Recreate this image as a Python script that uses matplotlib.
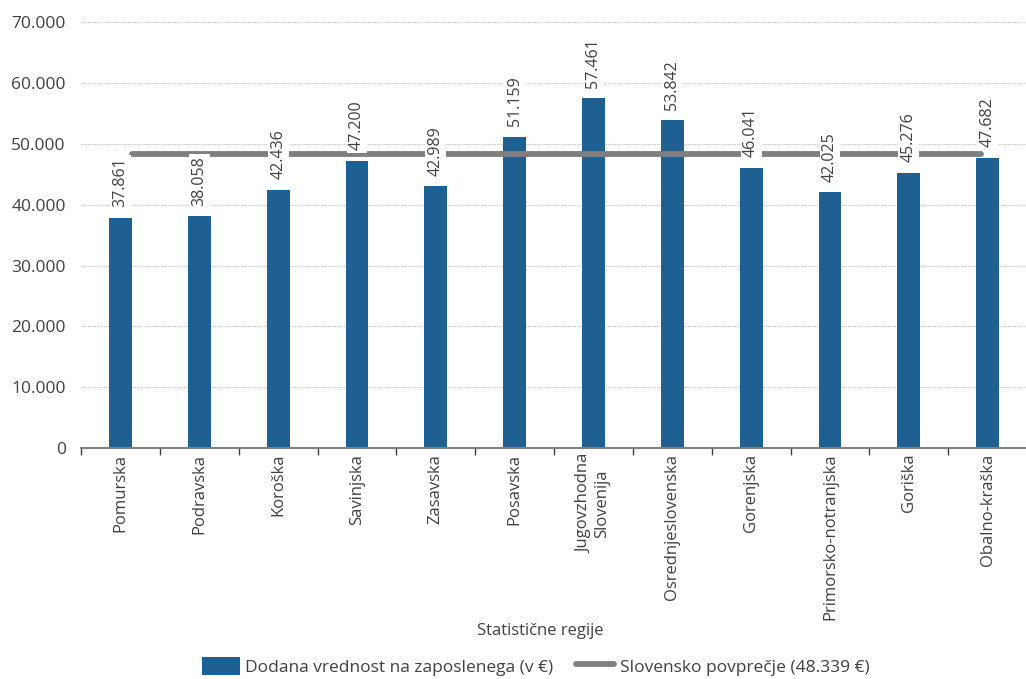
import matplotlib.pyplot as plt
from matplotlib.ticker import FuncFormatter, FixedLocator
from matplotlib.lines import Line2D
from matplotlib.patches import Patch

plt.rcParams["font.family"] = ["Open Sans", "DejaVu Sans"]

regions = [
    "Pomurska",
    "Podravska",
    "Koroška",
    "Savinjska",
    "Zasavska",
    "Posavska",
    "Jugovzhodna\nSlovenija",
    "Osrednjeslovenska",
    "Gorenjska",
    "Primorsko-notranjska",
    "Goriška",
    "Obalno-kraška",
]
value_added = [37861, 38058, 42436, 47200, 42989, 51159, 57461, 53842, 46041, 42025, 45276, 47682]
slovenia_avg = 48339

bar_color = "#1f6092"
line_color = "#7f7f7f"
text_color = "#404040"


def dot_thousands(v, pos=None):
    return f"{int(round(v)):,}".replace(",", ".")


fig = plt.figure(figsize=(10.26, 6.79), dpi=100)
ax = fig.add_axes([0.079, 0.340, 0.922, 0.6276])

x = list(range(len(regions)))
ax.bar(x, value_added, width=0.29, color=bar_color, zorder=2)

# national average drawn across the categories
ax.plot([0.15, 10.92], [slovenia_avg, slovenia_avg], color=line_color,
        linewidth=4.2, solid_capstyle="round", zorder=3)

for xi, v in zip(x, value_added):
    ax.annotate(dot_thousands(v), (xi, v), xytext=(0, 7.5), textcoords="offset points",
                rotation=90, ha="center", va="bottom", fontsize=11.5, color=text_color,
                bbox=dict(boxstyle="square,pad=0.15", fc="white", ec="none"),
                zorder=4, annotation_clip=False)

ax.set_xlim(-0.5, len(regions) - 0.5)
ax.set_ylim(0, 70000)
ax.set_yticks(range(0, 70001, 10000))
ax.yaxis.set_major_formatter(FuncFormatter(dot_thousands))
ax.grid(axis="y", linestyle=(0, (1, 1)), color="#bfbfbf", linewidth=0.8, zorder=0)

ax.set_xticks(x)
ax.set_xticklabels(regions, rotation=90, va="top", ha="center", fontsize=12,
                   color=text_color, linespacing=1.1)
ax.xaxis.set_minor_locator(FixedLocator([i - 0.5 for i in range(len(regions) + 1)]))
ax.tick_params(axis="x", which="major", length=0, pad=4)
ax.tick_params(axis="x", which="minor", length=5, width=1, color="#404040")
ax.tick_params(axis="y", length=0, pad=11, labelsize=12.5, labelcolor=text_color)

for side in ["top", "right", "left"]:
    ax.spines[side].set_visible(False)
ax.spines["bottom"].set_color("#808080")
ax.spines["bottom"].set_linewidth(1.5)

fig.text(0.527, 0.07, "Statistične regije", ha="center", va="center",
         fontsize=12, color=text_color)

handles = [
    Patch(facecolor=bar_color, edgecolor="none"),
    Line2D([0], [0], color=line_color, linewidth=4.2, solid_capstyle="round"),
]
fig.legend(handles, ["Dodana vrednost na zaposlenega (v €)", "Slovensko povprečje (48.339 €)"],
           loc="center", bbox_to_anchor=(0.522, 0.019), ncol=2, frameon=False,
           fontsize=12.5, labelcolor=text_color, handlelength=2.2, handleheight=1.25,
           handletextpad=0.3, columnspacing=1.3)

fig.savefig("out.png", dpi=100)
